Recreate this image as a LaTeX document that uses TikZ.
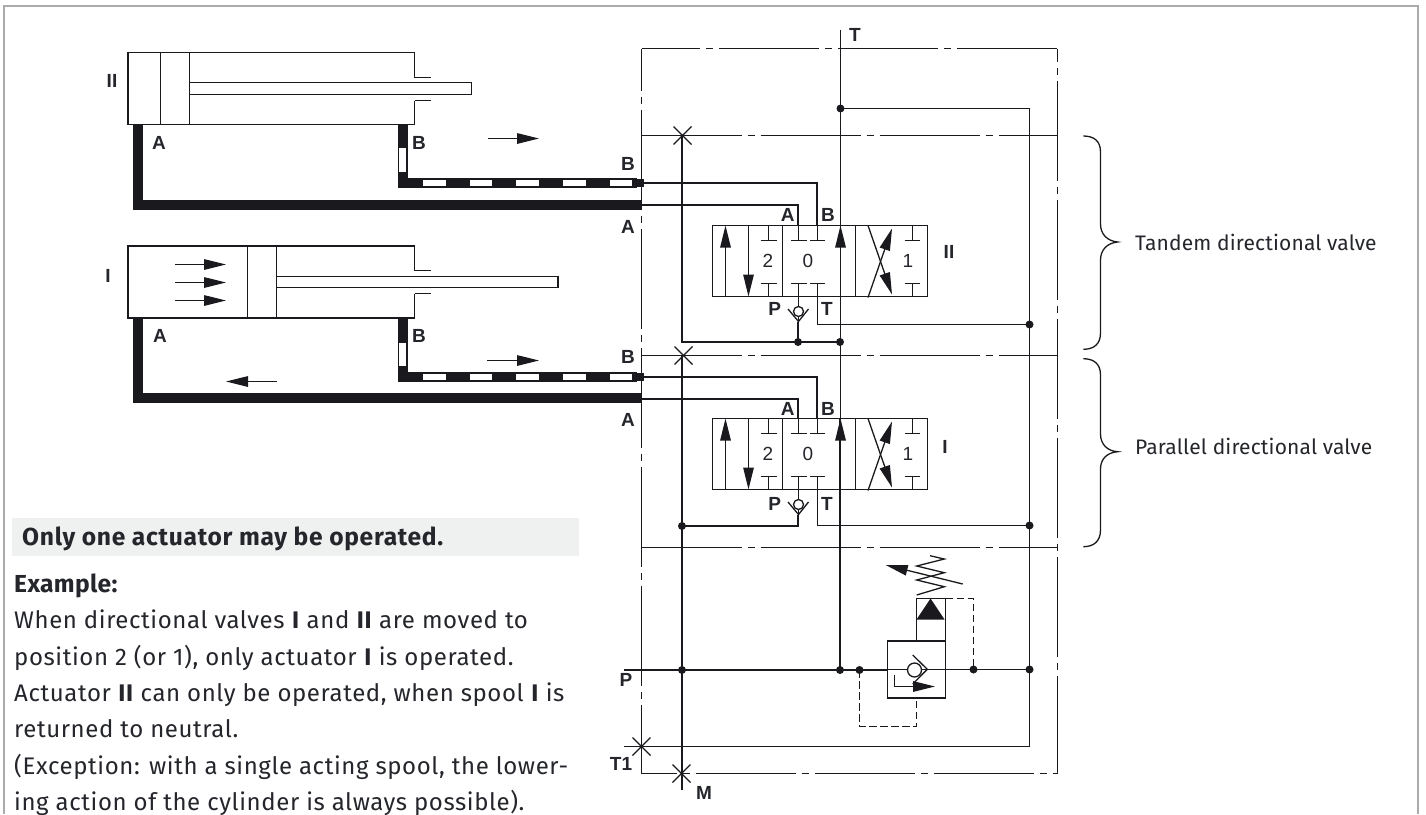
\documentclass[tikz,border=0pt]{standalone}
\usepackage{fontspec}
\setmainfont{Fira Sans}
\newfontfamily\lblfont{Liberation Sans}
\newfontfamily\bodyfont[LetterSpace=2.5]{Fira Sans}
\newfontfamily\bandfont[LetterSpace=2.9]{Fira Sans}
\newfontfamily\exfont[LetterSpace=1.5]{Fira Sans}
\newfontfamily\sidefont[LetterSpace=0.7]{Fira Sans}
\usetikzlibrary{arrows.meta}
\definecolor{ink}{HTML}{1A1A1E}
\definecolor{txt}{HTML}{24262B}
\definecolor{edge}{HTML}{ABABAB}
\definecolor{band}{HTML}{EFF1F1}
\tikzset{
  thinln/.style={draw=ink,line width=1.3pt},
  boldln/.style={draw=ink,line width=2pt},
  pipe/.style={draw=ink,line width=10pt,line join=miter,line cap=butt},
  framedash/.style={draw=ink,line width=1.3pt,dash pattern=on 100pt off 6pt on 7pt off 6pt},
  pilot/.style={draw=ink,line width=1.1pt,dash pattern=on 7.5pt off 3.5pt},
  flow/.style={draw=ink,line width=1.3pt,-{Triangle[length=22pt,width=10.5pt,fill=ink]}},
  jdot/.style={circle,fill=ink,inner sep=0pt,minimum size=8pt},
  lbl/.style={inner sep=0pt,text=txt,font=\lblfont\fontsize{19}{22}\selectfont\bfseries},
  num/.style={inner sep=0pt,text=txt,font=\lblfont\fontsize{19}{22}\selectfont},
  body/.style={inner sep=0pt,anchor=base west,text=txt,font=\bodyfont\fontsize{24}{28}\selectfont},
  bandtxt/.style={inner sep=0pt,anchor=base west,text=txt,font=\bandfont\fontsize{24.6}{28}\selectfont\bfseries},
  extxt/.style={inner sep=0pt,anchor=base west,text=txt,font=\exfont\fontsize{24.6}{28}\selectfont\bfseries},
  side/.style={inner sep=0pt,anchor=base west,text=txt,font=\sidefont\fontsize{21}{26}\selectfont},
  whitebar/.style={fill=white,draw=none},
  xmark/.style={draw=ink,line width=1.1pt},
}
% #1 name, #2 top y of the valve
\newcommand{\hydvalve}[2]{%
\begin{scope}[shift={(712,#2)}]
  \coordinate (#1A) at (86,0);
  \coordinate (#1B) at (105,0);
  \coordinate (#1P) at (86,96);
  \coordinate (#1T) at (105.5,71);
  \draw[thinln] (0.5,0) rectangle (215.5,71);
  \draw[thinln] (70.5,0)--(70.5,71) (143.5,0)--(143.5,71);
  \draw[flow] (13.5,71)--(13.5,0);
  \draw[flow] (36.5,0)--(36.5,71);
  \draw[thinln] (56.5,0)--(56.5,15) (48.5,15)--(64.5,15);
  \draw[thinln] (56.5,71)--(56.5,58) (48.5,58)--(64.5,58);
  \draw[thinln] (86.5,0)--(86.5,15) (79,15)--(94.5,15);
  \draw[thinln] (105.5,0)--(105.5,15) (98,15)--(113,15);
  \draw[thinln] (86.5,71)--(86.5,58) (79,58)--(94.5,58);
  \draw[thinln] (105.5,71)--(105.5,58) (98,58)--(113,58);
  \draw[flow] (156,72)--(180,3);
  \draw[flow] (156,0)--(180,69);
  \draw[thinln] (200.5,0)--(200.5,15) (192.5,15)--(208,15);
  \draw[thinln] (200.5,71)--(200.5,58) (192.5,58)--(208,58);
  \draw[thinln] (86.5,71)--(86.5,81) (86.5,91)--(86.5,96);
  \draw[thinln,fill=white] (86.5,86) circle (5);
  \draw[thinln] (76,83.5)--(86.5,96)--(96.5,83.5);
  \node[num] (#1two) at (56,35) {2};
  \node[num] (#1zero) at (96,35) {0};
  \node[num] (#1one) at (196,35) {1};
\end{scope}}
\newcommand{\crossmark}[2]{\draw[xmark] (#1-9,#2-9)--(#1+9,#2+9) (#1-9,#2+9)--(#1+9,#2-9);}
\begin{document}
\begin{tikzpicture}[x=1pt,y=-1pt]
\useasboundingbox (0,0) rectangle (1426,814);
\fill[white] (0,0) rectangle (1426,814);
% page border
\coordinate (bl) at (4,814); \coordinate (tl) at (4,6); \coordinate (tr) at (1418,6); \coordinate (br) at (1418,814);
\draw[edge,line width=1.6pt] (bl)--(tl)--(tr)--(br);
% text band
\fill[band] (12,518) rectangle (579,556);
\node[bandtxt] (t0) at (22,545) {Only one actuator may be operated.};
\node[extxt] (t1) at (14,592.5) {Example:};
\node[body] (t2) at (14,628) {When directional valves \textbf{I} and \textbf{II} are moved to};
\node[body] (t3) at (14,665) {position 2 (or 1), only actuator \textbf{I} is operated.};
\node[body] (t4) at (14,701.5) {Actuator \textbf{II} can only be operated, when spool \textbf{I} is};
\node[body] (t5) at (14,737.5) {returned to neutral.};
\node[body] (t6) at (14,774) {(Exception: with a single acting spool, the lower-};
\node[body] (t7) at (14,810) {ing action of the cylinder is always possible).};
% cylinder II
\draw[thinln] (414.5,77.5)--(414.5,52.5)--(128,52.5)--(128,124.5)--(414.5,124.5)--(414.5,100.5);
\draw[thinln] (414.5,77.5)--(431,77.5) (414.5,100.5)--(431,100.5);
\draw[thinln] (160.5,52.5)--(160.5,124.5) (189.5,52.5)--(189.5,124.5);
\draw[thinln] (189.5,82.5)--(471.5,82.5)--(471.5,94.5)--(189.5,94.5);
% cylinder I
\draw[thinln] (414.5,270.5)--(414.5,246)--(128,246)--(128,318)--(414.5,318)--(414.5,293.5);
\draw[thinln] (414.5,270.5)--(431,270.5) (414.5,293.5)--(431,293.5);
\draw[thinln] (247.5,246)--(247.5,318) (276.5,246)--(276.5,318);
\draw[thinln] (276.5,276.5)--(558,276.5)--(558,287.5)--(276.5,287.5);
\draw[flow] (175,264.5)--(226,264.5);
\draw[flow] (175,282.5)--(226,282.5);
\draw[flow] (175,300.5)--(226,300.5);
% thick pipes
\draw[pipe] (137.5,124.3)--(137.5,205.3)--(642,205.3);
\draw[pipe] (402.5,124.3)--(402.5,183.3)--(637,183.3);
\draw[pipe] (137.5,318)--(137.5,398.3)--(642,398.3);
\draw[pipe] (402.5,318)--(402.5,376.6)--(637,376.6);
\fill[ink] (636,179.3) rectangle (644,187.3);
\fill[ink] (636,372.6) rectangle (644,380.6);
\foreach \xa in {423,469.7,516.4,563.1,609.8}{
  \fill[whitebar] (\xa,180.2) rectangle (\xa+22.5,186.4);
  \fill[whitebar] (\xa,373.5) rectangle (\xa+22.5,379.7);
}
\fill[whitebar] (399.2,148) rectangle (405.8,171.7);
\fill[whitebar] (399.2,342.7) rectangle (405.8,366);
\draw[flow] (488,138.5)--(539,138.5);
\draw[flow] (487,360.5)--(539,360.5);
\draw[flow] (277,381.5)--(226,381.5);
% frame
\coordinate (f1) at (641.5,48.5); \coordinate (f2) at (1057.5,48.5);
\coordinate (f3) at (1057.5,773.5); \coordinate (f4) at (641.5,773.5);
\draw[framedash,dash phase=41.5pt] (f1)--(f2);
\draw[framedash,dash phase=87pt] (f2)--(f3);
\draw[framedash,dash phase=65pt] (f4)--(f3);
\draw[framedash,dash phase=58pt] (f1)--(f4);
\coordinate (h1a) at (641.5,135.5); \coordinate (h1b) at (1057.5,135.5);
\coordinate (h2a) at (641.5,355.5); \coordinate (h2b) at (1057.5,355.5);
\coordinate (h3a) at (641.5,547.5); \coordinate (h3b) at (1057.5,547.5);
\draw[framedash] (h1a)--(h1b);
\draw[framedash] (h2a)--(h2b);
\draw[framedash] (h3a)--(h3b);
% valves
\hydvalve{up}{225.5}
\hydvalve{lo}{418.5}
% junctions
\node[jdot] (j1) at (840.5,108.5) {};
\node[jdot] (j2) at (798,342) {};
\node[jdot] (j3) at (840,342) {};
\node[jdot] (j4) at (1029.5,324.5) {};
\node[jdot] (j5) at (682,526) {};
\node[jdot] (j6) at (1029.5,525.5) {};
\node[jdot] (j7) at (682,670) {};
\node[jdot] (j8) at (840,670) {};
\node[jdot] (j9) at (859.5,670) {};
\node[jdot] (j10) at (973.5,669.5) {};
\node[jdot] (j11) at (1029.5,669.5) {};
% tank line
\coordinate (ttop) at (840.5,30);
\coordinate (tjoin) at (840.5,418.5);
\coordinate (lojoin) at (840,418.5);
\coordinate (tfree) at (624,746.5);
\coordinate (tbend) at (1029.5,746.5);
\coordinate (tcor) at (1029.5,108.5);
\draw[thinln] (ttop)--(tjoin);
\draw[thinln] (j1.center)--(tcor)--(tbend)--(tfree);
% pressure lines
\coordinate (mtop) at (682,135.5);
\coordinate (mcor) at (682,342);
\coordinate (m2top) at (682,355.5);
\coordinate (mend) at (682,790);
\coordinate (pfree) at (624,670);
\coordinate (pbox) at (887.7,670);
\coordinate (relout) at (945,669.5);
\draw[boldln,line join=miter] (mtop)--(mcor)--(j3.center);
\draw[boldln] (m2top)--(mend);
\draw[boldln] (pfree)--(pbox);
\draw[thinln] (relout)--(j11.center);
\draw[boldln] (upP)--(j2.center);
\draw[boldln,line join=miter] (loP)|-(j5.center);
\draw[boldln] (lojoin)--(j8.center);
% arrows through the valves
\draw[flow] (840.5,296.5)--(840.5,225.5);
\draw[flow] (840.5,489.5)--(840.5,418.5);
% outlet lines to the valve ports
\coordinate (ub) at (640,183); \coordinate (ua) at (640,205);
\coordinate (lb) at (640,377); \coordinate (la) at (640,399);
\draw[boldln,line join=miter] (ub)-|(upB);
\draw[boldln,line join=miter] (ua)-|(upA);
\draw[boldln,line join=miter] (lb)-|(loB);
\draw[boldln,line join=miter] (la)-|(loA);
\draw[thinln,line join=miter] (upT)|-(j4.center);
\draw[thinln,line join=miter] (loT)|-(j6.center);
% X marks
\crossmark{682.5}{135.5}
\crossmark{683.5}{355.5}
\crossmark{641.5}{746.5}
\crossmark{681.5}{773.5}
% relief valve
\draw[thinln] (887.5,640.5) rectangle (945.5,698);
\draw[boldln] (887.5,698)--(945.5,698) (887.5,641)--(945.5,641);
\draw[thinln] (916.5,640.5)--(916.5,598.5)--(945.5,598.5)--(945.5,640.5);
\fill[ink] (930.5,598.5)--(944.5,619.5)--(916.5,619.5)--cycle;
\draw[thinln,line join=miter] (930,555.7)--(944.3,559)--(916.7,566)--(944.3,572.7)--(916.7,580)--(944.3,586.7)--(916.7,595);
\draw[flow] (962.7,584)--(885.7,565);
\draw[thinln] (914.5,670) circle (7);
\draw[thinln] (912.7,655)--(927.3,669.3)--(912.7,684);
\draw[thinln] (894.5,674.5)--(894.5,686.5)--(915,686.5);
\draw[flow] (900,686.5)--(935,686.5);
\draw[thinln] (887.5,669.5)--(907.5,669.5) (921.5,669.5)--(945.5,669.5);
\draw[pilot] (945.5,598.5)-|(j10.center);
\draw[pilot] (j9.center)|-(916.5,726.5)--(916.5,698);
% braces
\coordinate (b1) at (1083.3,136); \coordinate (b2) at (1083.3,349.3);
\coordinate (b3) at (1083.3,358.7); \coordinate (b4) at (1083.3,546.7);
\draw[thinln] (b1) .. controls (1094,136) and (1100.5,141) .. (1100.5,152) -- (1100.5,224) .. controls (1100.5,234) and (1107,241) .. (1117.7,242) .. controls (1107,243) and (1100.5,250) .. (1100.5,260) -- (1100.5,333) .. controls (1100.5,344) and (1094,349.3) .. (b2);
\draw[thinln] (b3) .. controls (1094,358.7) and (1100.5,364) .. (1100.5,375) -- (1100.5,434) .. controls (1100.5,444) and (1107,451) .. (1117.7,451.7) .. controls (1107,452.5) and (1100.5,459) .. (1100.5,469) -- (1100.5,530) .. controls (1100.5,541) and (1094,546.7) .. (b4);
\node[side] (s1) at (1135,250) {Tandem directional valve};
\node[side] (s2) at (1135,454) {Parallel directional valve};
% labels
\node[lbl] (c1) at (112,81) {II};
\node[lbl] (c2) at (159,142.7) {A};
\node[lbl] (c3) at (419,142.7) {B};
\node[lbl] (c4) at (108,276) {I};
\node[lbl] (c5) at (160,336) {A};
\node[lbl] (c6) at (419,335.5) {B};
\node[lbl] (l1) at (628,163.5) {B};
\node[lbl] (l2) at (628,227) {A};
\node[lbl] (l3) at (628,357) {B};
\node[lbl] (l4) at (628,420) {A};
\node[lbl] (l5) at (626,680) {P};
\node[lbl] (l6) at (621,764) {T1};
\node[lbl] (l7) at (704,793) {M};
\node[lbl] (l8) at (855,35) {T};
\node[lbl] (v1) at (787.7,215) {A};
\node[lbl] (v2) at (828,215) {B};
\node[lbl] (v3) at (774.7,309) {P};
\node[lbl] (v4) at (827,309) {T};
\node[lbl] (v5) at (949,252) {II};
\node[lbl] (v6) at (787.7,409) {A};
\node[lbl] (v7) at (828,409) {B};
\node[lbl] (v8) at (774.7,504) {P};
\node[lbl] (v9) at (827,504) {T};
\node[lbl] (v10) at (945,447) {I};
\end{tikzpicture}
\end{document}
